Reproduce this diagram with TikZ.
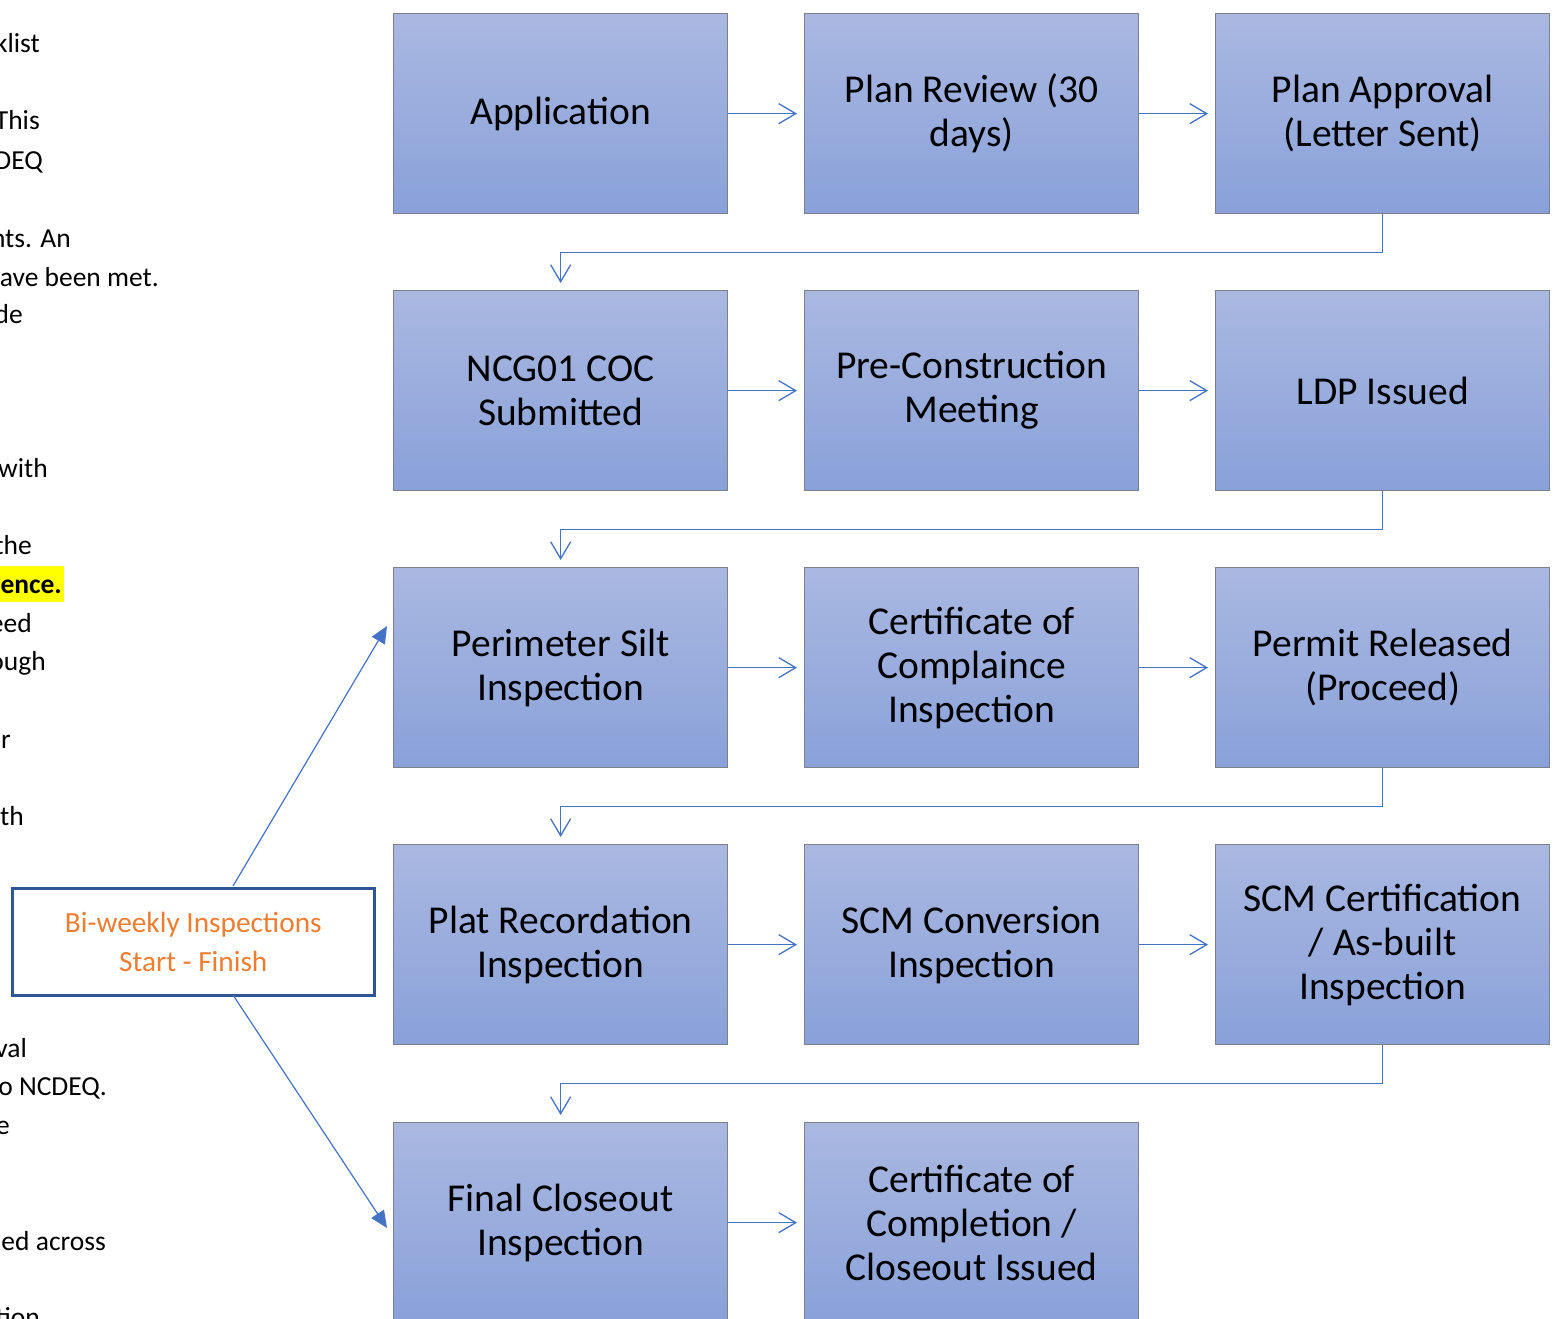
\documentclass[tikz,border=0pt]{standalone}
\usepackage{fontspec}
\setmainfont{Carlito}
\usetikzlibrary{arrows.meta,calc}
\definecolor{conn}{HTML}{4472C4}
\definecolor{boxtop}{RGB}{170,184,225}
\definecolor{boxbot}{RGB}{137,161,217}
\definecolor{boxline}{RGB}{125,128,138}
\definecolor{bwborder}{HTML}{2F5597}
\definecolor{orangetxt}{HTML}{ED7D31}
\definecolor{hiyellow}{RGB}{255,255,0}
\begin{document}
\begin{tikzpicture}[x=1pt,y=-1pt,
  stepbox/.style={draw=boxline, line width=1.3pt, top color=boxtop, bottom color=boxbot,
    minimum width=334pt, minimum height=200pt, anchor=north west, align=center,
    font=\fontsize{39.5}{44}\selectfont, inner sep=0pt, yshift=-2pt},
  flow/.style={draw=conn, line width=1.3pt, shorten >=7pt,
    -{Straight Barb[length=17pt,width=20pt,line width=1.3pt]}},
  cycle/.style={draw=conn, line width=1.2pt, -{Triangle[length=17pt,width=15pt]}},
  lefttxt/.style={anchor=base east, inner sep=0pt, font=\fontsize{27.5}{33}\selectfont},
  bwbox/.style={draw=bwborder, line width=2.6pt, fill=white, anchor=north west,
    minimum width=362pt, minimum height=107pt, align=center, inner sep=0pt,
    text=orangetxt, font=\fontsize{29.3}{39}\selectfont}
]
\useasboundingbox (0,0) rectangle (1561,1319);
\clip (0,0) rectangle (1561,1319);

% clipped left text
\node[lefttxt] (l1) at (40,53) {klist};
\node[lefttxt] (l2) at (40,130) {This};
\node[lefttxt] (l3) at (43,169) {DEQ};
\node[lefttxt] (l4) at (71,247) {nts. An};
\node[lefttxt] (l5) at (159,286) {ave been met.};
\node[lefttxt] (l6) at (23,323) {de};
\node[lefttxt] (l7) at (48,477) {with};
\node[lefttxt] (l8) at (32,554) {the};
\fill[hiyellow] (0,566) rectangle (64,602);
\node[lefttxt, font=\fontsize{27.5}{33}\selectfont\bfseries] (l9) at (62,593) {ence.};
\node[lefttxt] (l10) at (32,632) {eed};
\node[lefttxt] (l11) at (46,670) {ough};
\node[lefttxt] (l12) at (11,748) {r};
\node[lefttxt] (l13) at (24,825) {th};
\node[lefttxt] (l14) at (27,1057) {val};
\node[lefttxt] (l15) at (107,1095) {o NCDEQ.};
\node[lefttxt] (l16) at (10,1134) {e};
\node[lefttxt] (l17) at (106,1250) {ed across};
\node[lefttxt] (l18) at (40,1326) {tion};

% flow boxes
\node[stepbox] (app) at (393,11) {Application};
\node[stepbox] (rev) at (804,11) {Plan Review (30\\days)};
\node[stepbox] (apr) at (1215,11) {Plan Approval\\(Letter Sent)};

\node[stepbox] (ncg) at (393,288) {NCG01 COC\\Submitted};
\node[stepbox] (pre) at (804,288) {Pre-Construction\\Meeting};
\node[stepbox] (ldp) at (1215,288) {LDP Issued};

\node[stepbox] (sil) at (393,565) {Perimeter Silt\\Inspection};
\node[stepbox] (coc) at (804,565) {Certificate of\\Complaince\\Inspection};
\node[stepbox] (rel) at (1215,565) {Permit Released\\(Proceed)};

\node[stepbox] (pla) at (393,842) {Plat Recordation\\Inspection};
\node[stepbox] (scm) at (804,842) {SCM Conversion\\Inspection};
\node[stepbox] (scc) at (1215,842) {SCM Certification\\/ As-built\\Inspection};

\node[stepbox] (fin) at (393,1120) {Final Closeout\\Inspection};
\node[stepbox] (cmp) at (804,1120) {Certificate of\\Completion /\\Closeout Issued};

% horizontal connectors
\draw[flow] (app.east) -- (rev.west);
\draw[flow] (rev.east) -- (apr.west);
\draw[flow] (ncg.east) -- (pre.west);
\draw[flow] (pre.east) -- (ldp.west);
\draw[flow] (sil.east) -- (coc.west);
\draw[flow] (coc.east) -- (rel.west);
\draw[flow] (pla.east) -- (scm.west);
\draw[flow] (scm.east) -- (scc.west);
\draw[flow] (fin.east) -- (cmp.west);

% elbow connectors
\draw[flow] (apr.south) -- ++(0,38) -| (ncg.north);
\draw[flow] (ldp.south) -- ++(0,38) -| (sil.north);
\draw[flow] (rel.south) -- ++(0,38) -| (pla.north);
\draw[flow] (scc.south) -- ++(0,38) -| (fin.north);

% bi-weekly box
\node[bwbox] (bw) at (11,887) {Bi-weekly Inspections\\Start - Finish};
\coordinate (s1) at (233,886);
\coordinate (t1) at (387,626);
\coordinate (s2) at (233,995);
\coordinate (t2) at (387,1228);
\draw[cycle] (s1) -- (t1);
\draw[cycle] (s2) -- (t2);
\end{tikzpicture}
\end{document}
